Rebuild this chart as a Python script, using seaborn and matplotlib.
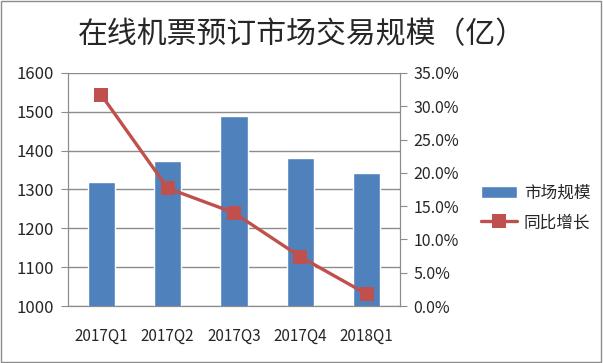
import matplotlib.pyplot as plt
import seaborn as sns
import pandas as pd
from matplotlib.patches import Patch, Rectangle
from matplotlib.lines import Line2D
from matplotlib.ticker import FuncFormatter, MultipleLocator

# 数据
quarters = ['2017Q1', '2017Q2', '2017Q3', '2017Q4', '2018Q1']
market_size = [1320, 1374, 1489, 1381, 1342]
yoy_growth = [0.317, 0.177, 0.140, 0.074, 0.018]

df = pd.DataFrame({'quarter': quarters, 'size': market_size, 'growth': yoy_growth})

sns.set_style('white')
plt.rcParams['font.family'] = ['Noto Sans CJK SC', 'DejaVu Sans']

bar_color = '#4F81BD'
line_color = '#C0504D'
grid_color = '#8C8C8C'

fig = plt.figure(figsize=(6.03, 3.63), dpi=100)
ax = fig.add_axes([0.113, 0.157, 0.55, 0.642])

sns.barplot(data=df, x='quarter', y='size', color=bar_color, width=0.41,
            saturation=1, ax=ax, zorder=2)
ax.set_ylim(1000, 1600)
ax.yaxis.set_major_locator(MultipleLocator(100))
ax.set_xlim(-0.5, 4.5)
ax.set_xlabel('')
ax.set_ylabel('')
ax.grid(axis='y', color=grid_color, linewidth=1, zorder=0)
ax.set_axisbelow(True)

ax2 = ax.twinx()
sns.lineplot(data=df, x='quarter', y='growth', color=line_color, linewidth=2.4,
             marker='s', markersize=9.5, markeredgewidth=0, ax=ax2, zorder=3)
ax2.set_ylim(0, 0.35)
ax2.yaxis.set_major_locator(MultipleLocator(0.05))
ax2.yaxis.set_major_formatter(FuncFormatter(lambda v, p: f'{v*100:.1f}%'))
ax2.set_xlim(-0.5, 4.5)
ax2.set_xlabel('')
ax2.set_ylabel('')

for a in (ax, ax2):
    for s in a.spines.values():
        s.set_color(grid_color)
    a.spines['top'].set_visible(False)

# x 轴刻度在类别之间
ax.set_xticks(range(len(quarters)))
ax.set_xticklabels(quarters)
ax.set_xticks([i - 0.5 for i in range(len(quarters) + 1)], minor=True)
ax.tick_params(axis='x', which='major', length=0, pad=16, labelsize=11)
ax.tick_params(axis='x', which='minor', length=5, color=grid_color, direction='out')
ax.tick_params(axis='y', length=5, color=grid_color, labelsize=12, pad=5, left=True)
ax2.tick_params(axis='y', length=5, color=grid_color, labelsize=11.5, pad=5, right=True)

handles = [Patch(facecolor=bar_color, label='市场规模'),
           Line2D([0], [0], color=line_color, linewidth=2.4, marker='s',
                  markersize=9.5, markeredgewidth=0, label='同比增长')]
fig.legend(handles=handles, loc='center left', bbox_to_anchor=(0.772, 0.427),
           frameon=False, fontsize=12, handlelength=2.2, handletextpad=0.4,
           labelspacing=0.75)

fig.text(0.5, 0.904, '在线机票预订市场交易规模（亿）', ha='center', va='center',
         fontsize=21.5)

fig.patches.append(Rectangle((0.002, 0.003), 0.995, 0.994, transform=fig.transFigure,
                             fill=False, edgecolor='#8C8C8C', linewidth=1))

fig.savefig('out.png', dpi=100)
plt.close(fig)
